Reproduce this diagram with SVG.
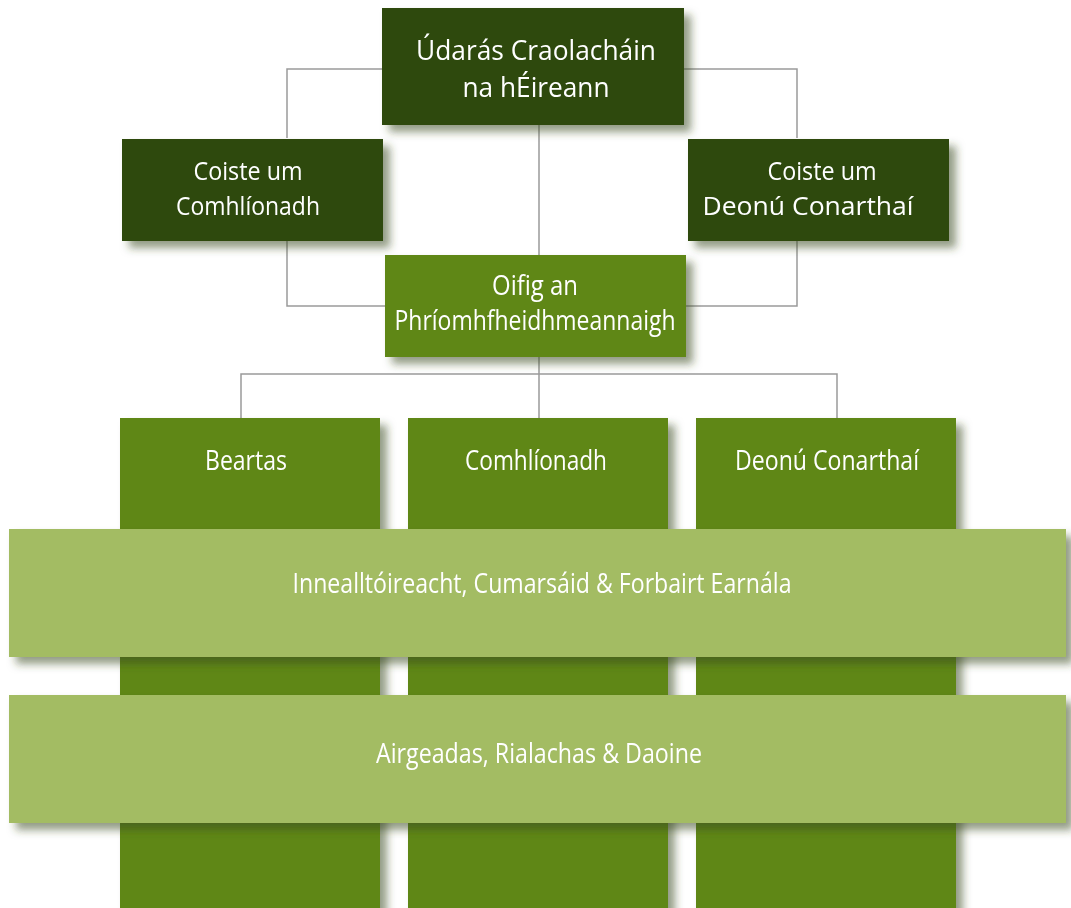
<svg xmlns="http://www.w3.org/2000/svg" width="1071" height="908" viewBox="0 0 1071 908">
<defs>
<filter id="sh" x="-10%" y="-20%" width="130%" height="150%">
<feDropShadow dx="7" dy="7" stdDeviation="4" flood-color="#3b4d1e" flood-opacity="0.55"/>
</filter>
<style>
.dark{fill:#2e4a0f}
.mid{fill:#5f8718}
.light{fill:#a3bc64}
.t{font-family:"Open Sans","Liberation Sans",sans-serif;fill:#ffffff;text-anchor:middle}
.c{stroke:#9a9a9a;stroke-width:1.5;fill:none}
</style>
</defs>
<rect width="1071" height="908" fill="#ffffff"/>
<g id="connectors">
<path class="c" d="M287,138 V69 H797 V138"/>
<path class="c" d="M539,125 V255"/>
<path class="c" d="M287,241 V306 H797 V241"/>
<path class="c" d="M539,357 V418"/>
<path class="c" d="M241,418 V374 H837 V418"/>
</g>
<g id="node-udaras" filter="url(#sh)">
<rect class="dark" x="382" y="8" width="302" height="117"/>
<text class="t" x="536" y="60" font-size="28" textLength="240" lengthAdjust="spacingAndGlyphs">Údarás Craolacháin</text>
<text class="t" x="536" y="97" font-size="28" textLength="147" lengthAdjust="spacingAndGlyphs">na hÉireann</text>
</g>
<g id="node-coiste-comhlionadh" filter="url(#sh)">
<rect class="dark" x="122" y="139" width="261" height="102"/>
<text class="t" x="248" y="180" font-size="26" textLength="109" lengthAdjust="spacingAndGlyphs">Coiste um</text>
<text class="t" x="248" y="215" font-size="26" textLength="144" lengthAdjust="spacingAndGlyphs">Comhlíonadh</text>
</g>
<g id="node-coiste-deonu" filter="url(#sh)">
<rect class="dark" x="688" y="139" width="261" height="102"/>
<text class="t" x="822" y="180" font-size="26" textLength="109" lengthAdjust="spacingAndGlyphs">Coiste um</text>
<text class="t" x="808" y="215" font-size="26" textLength="211" lengthAdjust="spacingAndGlyphs">Deonú Conarthaí</text>
</g>
<g id="node-oifig" filter="url(#sh)">
<rect class="mid" x="385" y="255" width="301" height="102"/>
<text class="t" x="535" y="295" font-size="27" textLength="86" lengthAdjust="spacingAndGlyphs">Oifig an</text>
<text class="t" x="535" y="330" font-size="27" textLength="281" lengthAdjust="spacingAndGlyphs">Phríomhfheidhmeannaigh</text>
</g>
<g id="node-beartas" filter="url(#sh)">
<rect class="mid" x="120" y="418" width="260" height="500"/>
<text class="t" x="246" y="470" font-size="27" textLength="82" lengthAdjust="spacingAndGlyphs">Beartas</text>
</g>
<g id="node-comhlionadh" filter="url(#sh)">
<rect class="mid" x="408" y="418" width="260" height="500"/>
<text class="t" x="536" y="470" font-size="27" textLength="142" lengthAdjust="spacingAndGlyphs">Comhlíonadh</text>
</g>
<g id="node-deonu" filter="url(#sh)">
<rect class="mid" x="696" y="418" width="260" height="500"/>
<text class="t" x="827" y="470" font-size="27" textLength="184" lengthAdjust="spacingAndGlyphs">Deonú Conarthaí</text>
</g>
<g id="node-innealltoireacht" filter="url(#sh)">
<rect class="light" x="9" y="529" width="1057" height="128"/>
<text class="t" x="542" y="593" font-size="27" textLength="499" lengthAdjust="spacingAndGlyphs">Innealltóireacht, Cumarsáid &amp; Forbairt Earnála</text>
</g>
<g id="node-airgeadas" filter="url(#sh)">
<rect class="light" x="9" y="695" width="1057" height="128"/>
<text class="t" x="539" y="763" font-size="27" textLength="326" lengthAdjust="spacingAndGlyphs">Airgeadas, Rialachas &amp; Daoine</text>
</g>
</svg>
